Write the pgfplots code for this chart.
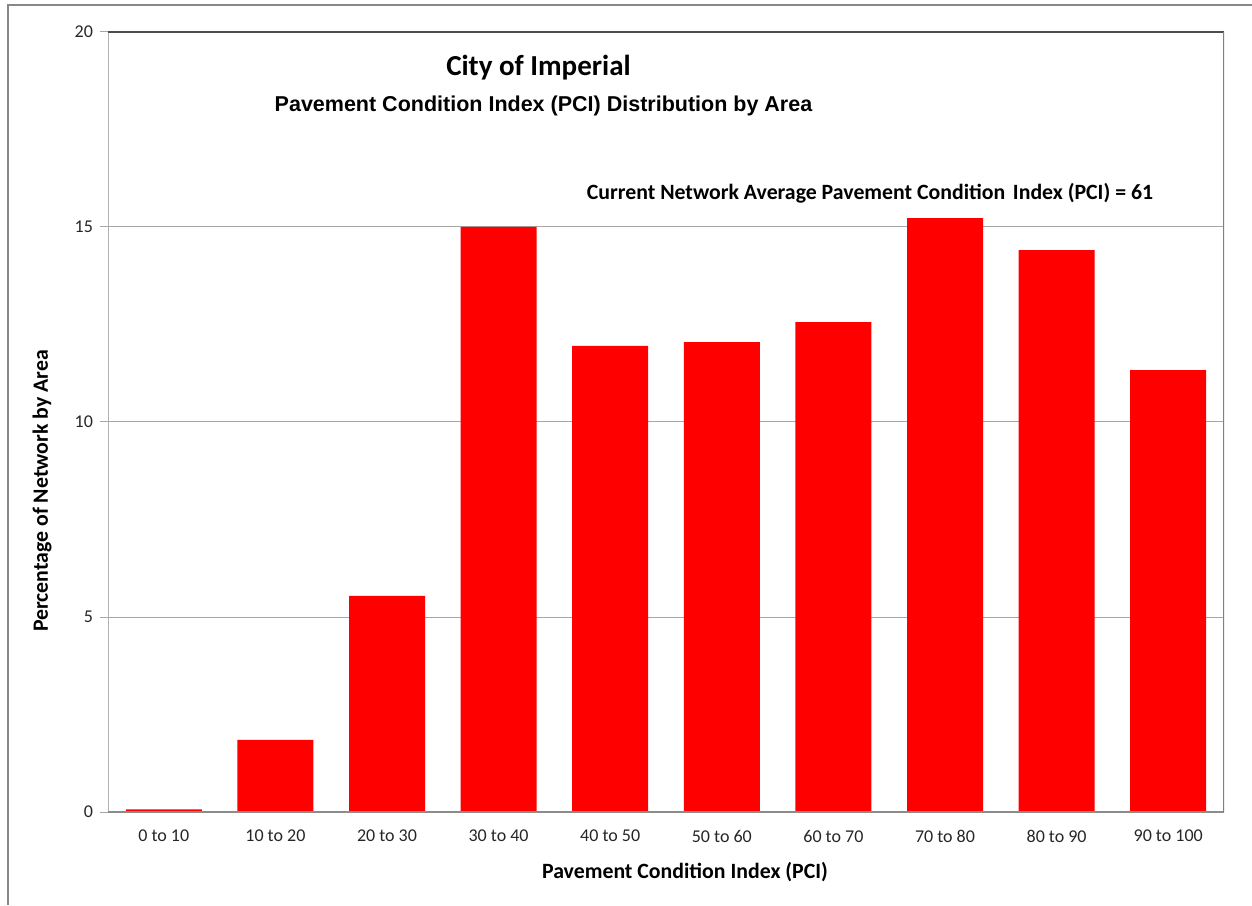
\documentclass[border=0pt]{standalone}
\usepackage{fontspec}
\setmainfont{Carlito}
\newfontfamily\arialfont{Liberation Sans}
\usepackage{pgfplots}
\pgfplotsset{compat=1.18}
\begin{document}
\begin{tikzpicture}[x=0.5pt,y=0.5pt]
\path[use as bounding box] (0,0) rectangle (1252,905);
\draw[color=black!47, line width=1pt] (8,0) -- (8,900) -- (1252,900);
\begin{axis}[
  at={(54pt,46.5pt)}, anchor=south west,
  scale only axis, width=558pt, height=390pt,
  xmin=-0.5, xmax=9.5, ymin=0, ymax=20,
  ytick={0,5,10,15,20},
  ytick pos=left, xtick pos=bottom,
  xtick={0,...,9},
  xticklabels={0 to 10,10 to 20,20 to 30,30 to 40,40 to 50,50 to 60,60 to 70,70 to 80,80 to 90,90 to 100},
  xtick style={draw=none},
  ytick style={draw=black!35, line width=0.5pt},
  tick align=outside, major tick length=4pt,
  ymajorgrids, major grid style={draw=black!35, line width=0.5pt},
  axis line style={draw=none},
  /pgf/number format/assume math mode=true,
  tick label style={font=\fontsize{9}{10}\selectfont, text=black!85},
  xticklabel style={yshift=-1.5pt},
]
\addplot[ybar, fill=red, draw=none, bar width=38pt] coordinates {
(0,0.07) (1,1.85) (2,5.54) (3,15.0) (4,11.95) (5,12.05) (6,12.56) (7,15.23) (8,14.41) (9,11.33)};
\pgfplotsinvokeforeach{-0.5,0.5,...,9.5}{\draw[black!35, line width=0.5pt] (axis cs:#1,0) -- ++(0,-3pt);}
\draw[black!30, line width=0.6pt] (rel axis cs:0,0) -- (rel axis cs:0,1);
\draw[black!45, line width=0.6pt] (rel axis cs:0,0) -- (rel axis cs:1,0);
\draw[black!70, line width=0.6pt] (rel axis cs:0,1) -- (rel axis cs:1,1);
\draw[black!50, line width=1pt] (rel axis cs:1,0) -- (rel axis cs:1,1);
\end{axis}
\node[font=\fontsize{14.5}{16}\selectfont\bfseries] at (538.5,837) {City of Imperial};
\node[font=\arialfont\fontsize{10.75}{12}\selectfont\bfseries] at (543.5,799) {Pavement Condition Index (PCI) Distribution by Area};
\node[font=\fontsize{10.9}{12}\selectfont\bfseries] at (870,712) {Current Network Average Pavement Condition\hspace{0.35em}Index (PCI) = 61};
\node[font=\fontsize{10.9}{12}\selectfont\bfseries, rotate=90] at (42,414) {Percentage of Network by Area};
\node[font=\fontsize{10.9}{12}\selectfont\bfseries] at (685,33) {Pavement Condition Index (PCI)};
\end{tikzpicture}
\end{document}
